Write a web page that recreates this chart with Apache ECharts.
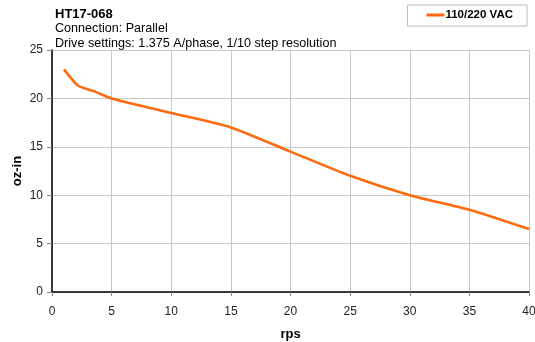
<!DOCTYPE html>
<html><head><meta charset="utf-8">
<script src="https://cdn.jsdelivr.net/npm/echarts@6/dist/echarts.min.js"></script>
<style>html,body{margin:0;padding:0;background:#fff}#c{width:535px;height:342px}</style>
</head><body><div id="c"></div>
<script>
const speeds = [1, 2.2, 3.5, 5, 10, 15, 20, 25, 30, 35, 40];
const torque = [23, 21.3, 20.75, 20, 18.5, 17, 14.5, 12, 10, 8.5, 6.5];
const seriesName = '110/220 VAC';
const titleText = 'HT17-068';
const subLines = ['Connection: Parallel', 'Drive settings: 1.375 A/phase, 1/10 step resolution'];

const chart = echarts.init(document.getElementById('c'), null, {renderer: 'canvas'});
const font = 'Arial, "Liberation Sans", sans-serif';
chart.setOption({
  animation: false,
  textStyle: {fontFamily: font},
  title: {
    text: titleText,
    subtext: subLines.join('\n'),
    left: 50, top: 3,
    itemGap: 0,
    textStyle: {fontSize: 13, fontWeight: 'bold', color: '#000', fontFamily: font},
    subtextStyle: {fontSize: 12.6, color: '#000', lineHeight: 15, fontFamily: font}
  },
  legend: {
    data: [seriesName],
    right: 8, top: 5,
    padding: [4, 14, 5, 19],
    borderColor: '#bbb', borderWidth: 1,
    itemWidth: 18, itemHeight: 3, itemGap: 0,
    icon: 'rect',
    textStyle: {fontSize: 11.5, fontWeight: 'bold', color: '#000', padding: [0, 0, 0, -4]}
  },
  grid: {left: 52, right: 6, top: 50, bottom: 50, outerBoundsMode: 'none'},
  xAxis: {
    type: 'value', min: 0, max: 40, interval: 5,
    name: 'rps', nameLocation: 'middle', nameGap: 36,
    nameTextStyle: {fontSize: 13, fontWeight: 'bold', color: '#000'},
    axisLine: {show: true, onZero: false, lineStyle: {color: '#000', width: 1.5}},
    axisTick: {show: true, length: 4, lineStyle: {color: '#888'}},
    axisLabel: {fontSize: 12, color: '#222', margin: 14},
    splitLine: {show: true, lineStyle: {color: '#c8c8c8'}}
  },
  yAxis: {
    type: 'value', min: 0, max: 25, interval: 5,
    name: 'oz-in', nameLocation: 'middle', nameGap: 28, nameMoveOverlap: false,
    nameTextStyle: {fontSize: 13, fontWeight: 'bold', color: '#000'},
    axisLine: {show: true, lineStyle: {color: '#000', width: 1.5}},
    axisTick: {show: true, length: 5, lineStyle: {color: '#888'}},
    axisLabel: {fontSize: 12, color: '#222', margin: 9},
    splitLine: {show: true, lineStyle: {color: '#c8c8c8'}}
  },
  series: [{
    name: seriesName, type: 'line',
    data: speeds.map((s, i) => [s, torque[i]]),
    smooth: 0.2, showSymbol: false,
    lineStyle: {color: '#ff6a0d', width: 2.6},
    itemStyle: {color: '#ff6a0d'}
  }]
});
</script></body></html>
